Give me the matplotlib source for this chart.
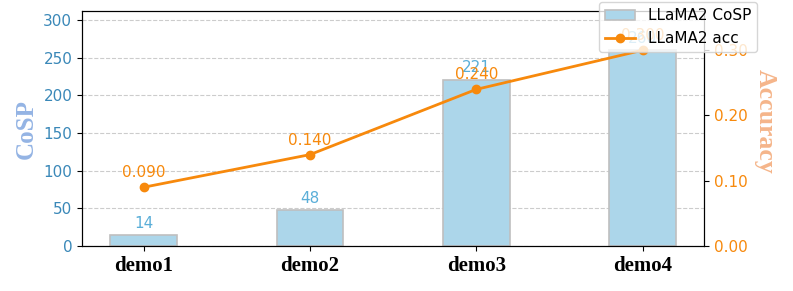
import numpy as np
import matplotlib.pyplot as plt

# data
demos = ["demo1", "demo2", "demo3", "demo4"]
cosp = [14, 48, 221, 260]
acc = [0.090, 0.140, 0.240, 0.300]

x = np.arange(len(demos))

fig, ax1 = plt.subplots(figsize=(7.93, 2.91), dpi=100)
fig.subplots_adjust(left=0.1034, right=0.888, top=0.962, bottom=0.1546)

bars = ax1.bar(x, cosp, width=0.4, color="#acd6ea", edgecolor="#bfbfbf",
               linewidth=1.2, label="LLaMA2 CoSP")
ax1.set_ylim(0, max(cosp) * 1.2)
ax1.set_ylabel("CoSP", family="Liberation Serif", fontweight="bold",
               fontsize=18, color="#94b4e4")
ax1.tick_params(axis="y", labelsize=11)
for lab in ax1.get_yticklabels():
    lab.set_color("#3a88b8")
ax1.set_xticks(x)
ax1.set_xticklabels(demos, family="Liberation Serif", fontweight="bold", fontsize=15)
ax1.grid(axis="y", linestyle="--", color="#cccccc", linewidth=0.8)
ax1.set_axisbelow(True)

for xi, v in zip(x, cosp):
    ax1.annotate(f"{v}", (xi, v), xytext=(0, 3), textcoords="offset points",
                 ha="center", va="bottom", fontsize=11, color="#5aaed8")

ax2 = ax1.twinx()
line, = ax2.plot(x, acc, color="#f7890c", marker="o", markersize=6,
                 linewidth=2, label="LLaMA2 acc")
ax2.set_ylim(0, max(acc) * 1.2)
ax2.set_yticks([0.0, 0.1, 0.2, 0.3])
ax2.yaxis.set_major_formatter(plt.FormatStrFormatter("%.2f"))
ax2.tick_params(axis="y", labelsize=11)
for lab in ax2.get_yticklabels():
    lab.set_color("#f7890c")
ax2.set_ylabel("Accuracy", family="Liberation Serif", fontweight="bold",
               fontsize=18.5, color="#f5b58a", rotation=270, labelpad=20)
ax2.yaxis.set_label_coords(1.116, 0.53)

for xi, v in zip(x, acc):
    ax2.annotate(f"{v:.3f}", (xi, v), xytext=(0, 5), textcoords="offset points",
                 ha="center", va="bottom", fontsize=11, color="#f7890c")

ax2.legend([bars, line], ["LLaMA2 CoSP", "LLaMA2 acc"], loc="upper right",
           bbox_to_anchor=(1.085, 1.038), borderaxespad=0, fontsize=11)

plt.savefig("out.png")
